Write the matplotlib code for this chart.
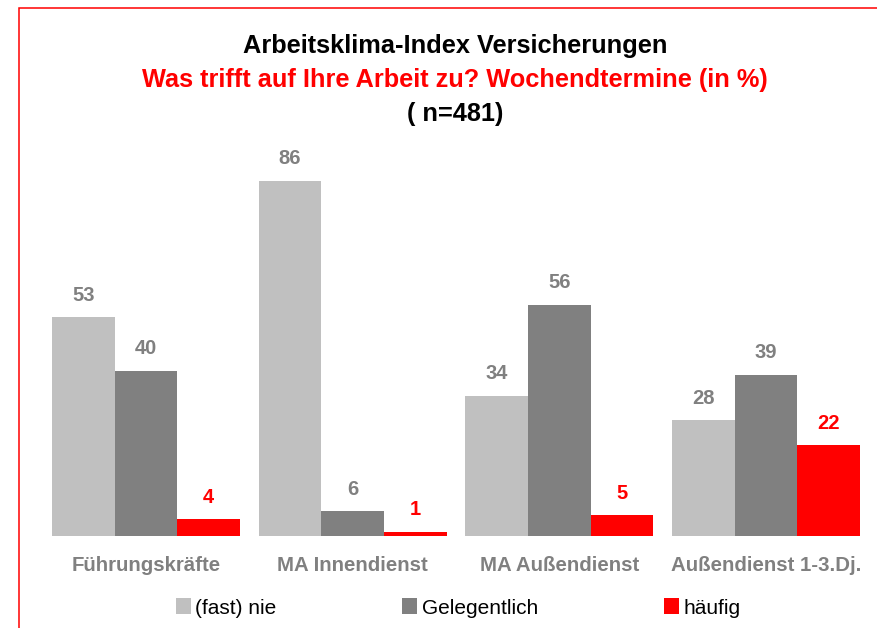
import matplotlib.pyplot as plt
from matplotlib.patches import Rectangle
import numpy as np

plt.rcParams['font.family'] = ['Liberation Sans', 'DejaVu Sans']

categories = ["Führungskräfte", "MA Innendienst", "MA Außendienst", "Außendienst 1-3.Dj."]
series_names = ["(fast) nie", "Gelegentlich", "häufig"]
fast_nie = [53, 86, 34, 28]
gelegentlich = [40, 6, 56, 39]
haeufig = [4, 1, 5, 22]

colors = ["#c0c0c0", "#808080", "#ff0000"]
label_colors = ["#808080", "#808080", "#ff0000"]

W, H = 878, 628
fig = plt.figure(figsize=(W / 100, H / 100), dpi=100)
# axes placed in pixel terms: baseline at y=536, groups centred at 146..766
ax = fig.add_axes([35 / W, (H - 536) / H, 842 / W, (536 - 139.5) / H])

x = np.arange(len(categories))
bw = 0.303
for i, vals in enumerate([fast_nie, gelegentlich, haeufig]):
    bars = ax.bar(x + (i - 1) * bw, vals, bw, color=colors[i], label=series_names[i])
    for b, v in zip(bars, vals):
        ax.annotate(str(v), (b.get_x() + b.get_width() / 2, v), xytext=(0, 9),
                    textcoords="offset points", ha="center", va="bottom",
                    fontsize=14.5, fontweight="bold", color=label_colors[i])

ax.set_xlim(-0.537, 3.537)
ax.set_ylim(0, 96)
ax.set_xticks(x)
ax.set_xticklabels(categories, fontsize=14.7, fontweight="bold", color="#808080")
ax.tick_params(axis="x", length=0, pad=14.5)
ax.set_yticks([])
for s in ax.spines.values():
    s.set_visible(False)

fig.text(0.518, 0.927, "Arbeitsklima-Index Versicherungen", ha="center", va="center",
         fontsize=18.3, fontweight="bold", color="black")
fig.text(0.518, 0.873, "Was trifft auf Ihre Arbeit zu? Wochendtermine (in %)", ha="center", va="center",
         fontsize=18.3, fontweight="bold", color="#ff0000")
fig.text(0.518, 0.818, "( n=481)", ha="center", va="center",
         fontsize=18.3, fontweight="bold", color="black")

fig.legend(loc="center", bbox_to_anchor=(458 / W, 1 - 608 / H), ncol=3, frameon=False,
           fontsize=15, handlelength=0.72, handleheight=0.77, handletextpad=0.2,
           columnspacing=6.06, borderpad=0)

# red frame on top and left edges
fig.add_artist(Rectangle((19 / W, -0.5), 2, 1.5 - 8 / H, transform=fig.transFigure,
                         fill=False, edgecolor="#ff0000", linewidth=1.1))

fig.savefig("out.png", dpi=100)
